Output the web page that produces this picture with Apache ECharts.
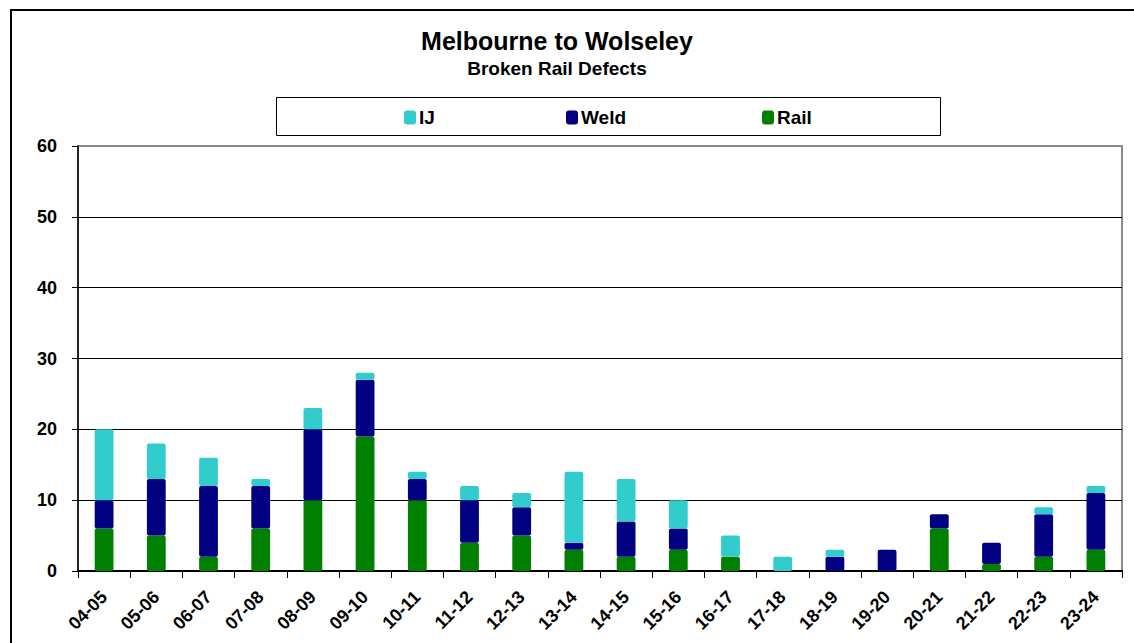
<!DOCTYPE html>
<html>
<head>
<meta charset="utf-8">
<title>Melbourne to Wolseley</title>
<script src="https://cdn.jsdelivr.net/npm/echarts@6/dist/echarts.min.js"></script>
<style>
  html, body { margin: 0; padding: 0; background: #fff; }
  #main { width: 1134px; height: 643px; }
</style>
</head>
<body>
<div id="main"></div>
<script>
const categories = ['04-05', '05-06', '06-07', '07-08', '08-09', '09-10', '10-11', '11-12', '12-13', '13-14',
  '14-15', '15-16', '16-17', '17-18', '18-19', '19-20', '20-21', '21-22', '22-23', '23-24']
const rail = [6, 5, 2, 6, 10, 19, 10, 4, 5, 3, 2, 3, 2, 0, 0, 0, 6, 1, 2, 3]
const weld = [4, 8, 10, 6, 10, 8, 3, 6, 4, 1, 5, 3, 0, 0, 2, 3, 2, 3, 6, 8]
const ij = [10, 5, 4, 1, 3, 1, 1, 2, 2, 10, 6, 4, 3, 2, 1, 0, 0, 0, 1, 1]
const yTicks = [0, 10, 20, 30, 40, 50, 60]

const font = "'Liberation Sans', Arial, sans-serif"
const colors = { IJ: '#33cccc', Weld: '#000080', Rail: '#008000' }

const chart = echarts.init(document.getElementById('main'), null, { renderer: 'svg' })

function legendFor(name, left) {
  return {
    data: [name],
    left: left,
    top: 108,
    padding: 0,
    itemWidth: 12,
    itemHeight: 14,
    itemGap: 4,
    icon: 'roundRect',
    textStyle: { fontFamily: font, fontWeight: 'bold', fontSize: 19, color: '#000', padding: [0, 0, 0, -2] }
  }
}

function barSeries(name, data) {
  return {
    name: name,
    type: 'bar',
    stack: 'total',
    barWidth: '36%',
    data: data,
    itemStyle: { color: colors[name], borderRadius: 2 },
    emphasis: { disabled: true }
  }
}

chart.setOption({
  animation: false,
  textStyle: { fontFamily: font },
  title: {
    text: 'Melbourne to Wolseley',
    subtext: 'Broken Rail Defects',
    left: 557,
    top: 28,
    textAlign: 'center',
    padding: 0,
    itemGap: 6,
    textStyle: { fontFamily: font, fontWeight: 'bold', fontSize: 25, color: '#000' },
    subtextStyle: { fontFamily: font, fontWeight: 'bold', fontSize: 19, color: '#000' }
  },
  legend: [legendFor('IJ', 404), legendFor('Weld', 566), legendFor('Rail', 762)],
  graphic: [
    {
      type: 'rect',
      shape: { x: 11, y: 10, width: 1140, height: 650 },
      style: { fill: 'none', stroke: '#000', lineWidth: 2 },
      silent: true
    },
    {
      type: 'rect',
      shape: { x: 276.5, y: 97.5, width: 664, height: 38 },
      style: { fill: 'none', stroke: '#000', lineWidth: 1 },
      silent: true
    }
  ],
  grid: {
    left: 78,
    right: 12,
    top: 146,
    bottom: 72,
    show: true,
    borderColor: '#8c8c8c',
    borderWidth: 2,
    containLabel: false
  },
  xAxis: {
    type: 'category',
    data: categories,
    axisLine: { lineStyle: { color: '#000', width: 2 } },
    axisTick: { show: true, length: 7, lineStyle: { color: '#000' } },
    axisLabel: {
      rotate: 45,
      margin: 23,
      interval: 0,
      color: '#000',
      fontFamily: font,
      fontWeight: 'bold',
      fontSize: 18
    }
  },
  yAxis: {
    type: 'value',
    min: yTicks[0],
    max: yTicks[yTicks.length - 1],
    interval: 10,
    axisLine: { show: true, lineStyle: { color: '#000', width: 1.5 } },
    axisTick: { show: true, length: 6, lineStyle: { color: '#000' } },
    splitLine: { show: true, showMaxLine: false, lineStyle: { color: '#000', width: 1 } },
    axisLabel: {
      margin: 21,
      color: '#000',
      fontFamily: font,
      fontWeight: 'bold',
      fontSize: 18
    }
  },
  series: [
    barSeries('Rail', rail),
    barSeries('Weld', weld),
    barSeries('IJ', ij)
  ]
})
</script>
</body>
</html>
